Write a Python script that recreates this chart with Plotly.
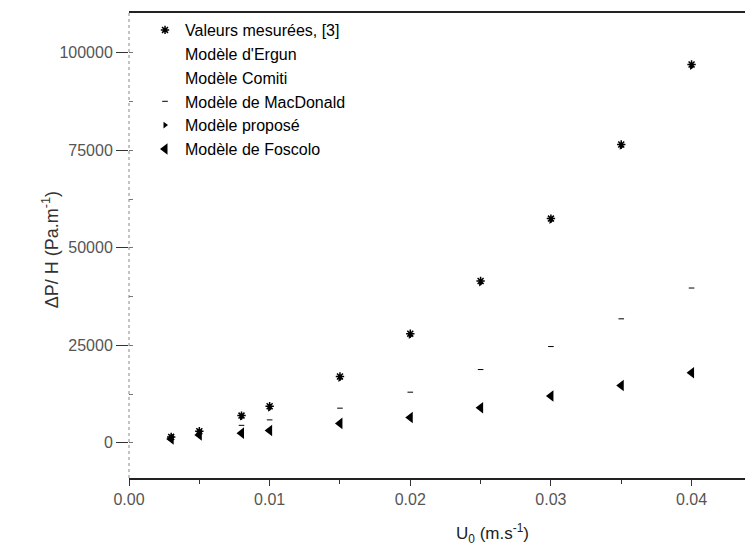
import plotly.graph_objects as go

# Superficial velocity (m/s)
u0 = [0.003, 0.005, 0.008, 0.010, 0.015, 0.020, 0.025, 0.030, 0.035, 0.040]

# Pressure drop per unit height (Pa/m)
mesures = [1500, 3000, 7000, 9400, 17000, 28000, 41500, 57500, 76500, 97000]
ergun = [1450, 2900, 6800, 9200, 16800, 27600, 41000, 57000, 76000, 96500]
comiti = [1450, 2900, 6900, 9300, 16900, 27800, 41200, 57200, 76200, 96800]
macdonald = [1500, 2800, 4500, 5900, 8900, 13000, 18800, 24700, 31800, 39700]
propose = [1400, 2800, 6600, 8900, 16500, 27500, 41000, 57000, 76000, 96500]
foscolo = [1000, 2000, 2500, 3200, 5000, 6500, 9000, 12000, 14700, 18000]

xticks = [0.00, 0.01, 0.02, 0.03, 0.04]
xtick_text = ["0.00", "0.01", "0.02", "0.03", "0.04"]
yticks = [0, 25000, 50000, 75000, 100000]
ytick_text = ["0", "25000", "50000", "75000", "100000"]

fig = go.Figure()

fig.add_trace(go.Scatter(
    x=u0, y=mesures, mode="markers", name="Valeurs mesurées, [3]",
    marker=dict(symbol="asterisk-open", size=7, color="black",
                line=dict(color="black", width=1.5))))
fig.add_trace(go.Scatter(
    x=u0, y=ergun, mode="markers", name="Modèle d'Ergun",
    marker=dict(symbol="circle", size=6, color="rgba(0,0,0,0)")))
fig.add_trace(go.Scatter(
    x=u0, y=comiti, mode="markers", name="Modèle Comiti",
    marker=dict(symbol="square", size=6, color="rgba(0,0,0,0)")))
fig.add_trace(go.Scatter(
    x=u0, y=macdonald, mode="markers", name="Modèle de MacDonald",
    marker=dict(symbol="line-ew-open", size=4, color="black",
                line=dict(color="black", width=1))))
fig.add_trace(go.Scatter(
    x=u0, y=propose, mode="markers", name="Modèle proposé",
    marker=dict(symbol="triangle-right", size=6, color="black")))
fig.add_trace(go.Scatter(
    x=u0, y=foscolo, mode="markers", name="Modèle de Foscolo",
    marker=dict(symbol="triangle-left", size=10, color="black")))

# dotted left spine
fig.add_shape(type="line", xref="paper", yref="paper", x0=0, x1=0, y0=0, y1=1,
              line=dict(color="#888", width=1, dash="dot"))

# axis titles placed as text
fig.add_annotation(xref="paper", yref="paper", x=0.59, y=-0.088,
                   xanchor="center", yanchor="top", showarrow=False,
                   text="U<sub>0</sub> (m.s<sup>-1</sup>)",
                   font=dict(family="Liberation Sans, Arial", size=17, color="#222"))
fig.add_annotation(xref="paper", yref="paper", x=-0.128, y=0.49,
                   xanchor="center", yanchor="middle", showarrow=False,
                   textangle=-90,
                   text="ΔP/ H (Pa.m<sup>-1</sup>)",
                   font=dict(family="Liberation Sans, Arial", size=18, color="#333"))

fig.update_layout(
    width=745, height=551,
    margin=dict(l=129, r=0, t=13, b=73),
    paper_bgcolor="white", plot_bgcolor="white",
    font=dict(family="Liberation Sans, Arial", size=16, color="black"),
    showlegend=True,
    legend=dict(x=0.026, y=1.0, xanchor="left", yanchor="top",
                bgcolor="rgba(0,0,0,0)", borderwidth=0,
                font=dict(size=16, color="black")),
    xaxis=dict(range=[0, 0.0438], tickvals=xticks, ticktext=xtick_text,
               ticks="outside", ticklen=6, tickcolor="#333",
               minor=dict(ticks="outside", ticklen=4, dtick=0.005, tickcolor="#333"),
               showline=True, linecolor="#222", linewidth=1.5, mirror=True,
               showgrid=False, zeroline=False,
               tickfont=dict(size=16, color="#555")),
    yaxis=dict(range=[-9000, 110200], tickvals=yticks, ticktext=ytick_text,
               ticks="outside", ticklen=12, tickcolor="#333",
               minor=dict(ticks="inside", ticklen=4, dtick=12500, tickcolor="#777"),
               showline=False, showgrid=False, zeroline=False,
               tickfont=dict(size=16, color="#555")),
)

fig.write_html("out.html")
